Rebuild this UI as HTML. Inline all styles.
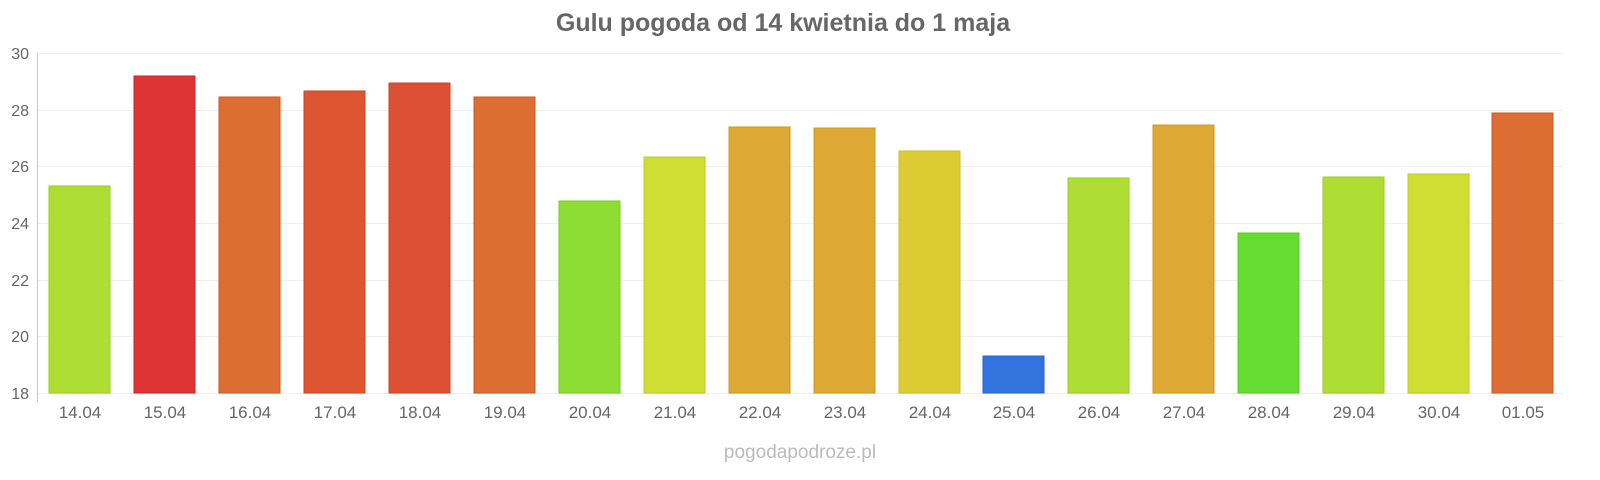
<!DOCTYPE html>
<html><head><meta charset="utf-8"><style>
html,body{margin:0;padding:0;background:#fff;width:1600px;height:480px;overflow:hidden}
</style></head><body>
<svg width="1600" height="480" xmlns="http://www.w3.org/2000/svg" font-family="Liberation Sans, sans-serif">
<text x="783" y="31" text-anchor="middle" font-size="25" font-weight="bold" fill="#666">Gulu pogoda od 14 kwietnia do 1 maja</text>
<g stroke="#eee" stroke-width="1">
<line x1="37" x2="1563" y1="53.5" y2="53.5"/>
<line x1="37" x2="1563" y1="110.5" y2="110.5"/>
<line x1="37" x2="1563" y1="166.5" y2="166.5"/>
<line x1="37" x2="1563" y1="223.5" y2="223.5"/>
<line x1="37" x2="1563" y1="280.5" y2="280.5"/>
<line x1="37" x2="1563" y1="336.5" y2="336.5"/>
<line x1="37" x2="1563" y1="393.5" y2="393.5"/>
</g>
<line x1="37.5" x2="37.5" y1="53" y2="402" stroke="#ccc"/>
<g font-size="16" fill="#666" text-anchor="end">
<text x="29" y="59">30</text><text x="29" y="116">28</text><text x="29" y="172">26</text>
<text x="29" y="229">24</text><text x="29" y="286">22</text><text x="29" y="342">20</text><text x="29" y="399">18</text>
</g>
<g stroke-width="1">
<rect x="49" y="186" width="61" height="207" fill="#b0dd33" stroke="#9c2"/>
<rect x="134" y="76" width="61" height="317" fill="#dd3535" stroke="#c22"/>
<rect x="219" y="97" width="61" height="296" fill="#dd6e33" stroke="#c52"/>
<rect x="304" y="91" width="61" height="302" fill="#dd5533" stroke="#c42"/>
<rect x="389" y="83" width="61" height="310" fill="#dd5033" stroke="#c42"/>
<rect x="474" y="97" width="61" height="296" fill="#dd6e33" stroke="#c52"/>
<rect x="559" y="201" width="61" height="192" fill="#8ddd35" stroke="#7c2"/>
<rect x="644" y="157" width="61" height="236" fill="#d0dd33" stroke="#bc2"/>
<rect x="729" y="127" width="61" height="266" fill="#dda833" stroke="#c92"/>
<rect x="814" y="128" width="61" height="265" fill="#dda833" stroke="#c92"/>
<rect x="899" y="151" width="61" height="242" fill="#dccb33" stroke="#cb2"/>
<rect x="983" y="356" width="61" height="37" fill="#3373dd" stroke="#26c"/>
<rect x="1068" y="178" width="61" height="215" fill="#b0dd33" stroke="#9c2"/>
<rect x="1153" y="125" width="61" height="268" fill="#dda833" stroke="#c92"/>
<rect x="1238" y="233" width="61" height="160" fill="#66dd33" stroke="#5c2"/>
<rect x="1323" y="177" width="61" height="216" fill="#b0dd33" stroke="#9c2"/>
<rect x="1408" y="174" width="61" height="219" fill="#d0dd33" stroke="#bc2"/>
<rect x="1492" y="113" width="61" height="280" fill="#dd6e33" stroke="#c52"/>
</g>
<g font-size="17" fill="#666" text-anchor="middle">
<text x="80" y="418">14.04</text><text x="165" y="418">15.04</text><text x="250" y="418">16.04</text>
<text x="335" y="418">17.04</text><text x="420" y="418">18.04</text><text x="505" y="418">19.04</text>
<text x="590" y="418">20.04</text><text x="675" y="418">21.04</text><text x="760" y="418">22.04</text>
<text x="845" y="418">23.04</text><text x="930" y="418">24.04</text><text x="1014" y="418">25.04</text>
<text x="1099" y="418">26.04</text><text x="1184" y="418">27.04</text><text x="1269" y="418">28.04</text>
<text x="1354" y="418">29.04</text><text x="1439" y="418">30.04</text><text x="1523" y="418">01.05</text>
</g>
<text x="800" y="458" text-anchor="middle" font-size="19" fill="#bbb">pogodapodroze.pl</text>
</svg>
</body></html>
